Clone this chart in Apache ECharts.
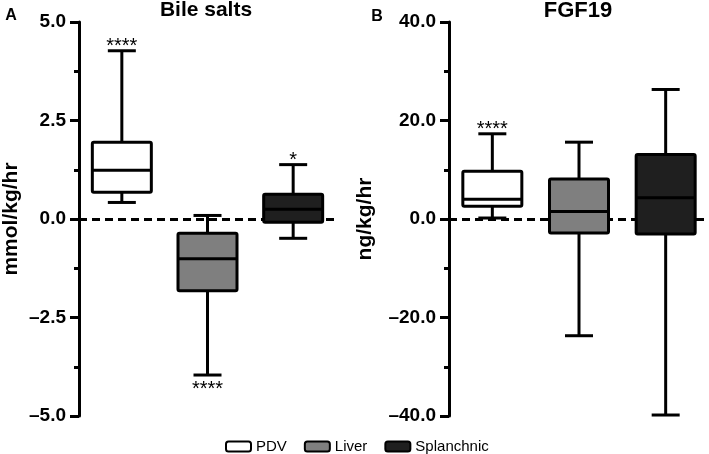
<!DOCTYPE html>
<html><head><meta charset="utf-8">
<script src="https://cdn.jsdelivr.net/npm/echarts@6/dist/echarts.min.js"></script>
<style>html,body{margin:0;padding:0;background:#fff}#c{width:709px;height:454px}</style>
</head><body><div id="c"></div>
<script>
// ---- data ----
const groups = ['PDV', 'Liver', 'Splanchnic'];
// Panel A: Bile salts (mmol/kg/hr) -> [min, Q1, median, Q3, max]
const bilePDV = [0.42, 0.68, 1.24, 1.95, 4.27];
const bileLiver = [-3.96, -1.82, -1.01, -0.36, 0.09];
const bileSplanchnic = [-0.49, -0.08, 0.25, 0.63, 1.38];
const bileStars = ['****', '****', '*'];
const bileStarSide = ['top', 'bottom', 'top'];
const bileTicks = [-5, -2.5, 0, 2.5, 5];
// Panel B: FGF19 (ng/kg/hr)
const fgfPDV = [0.2, 2.6, 4.0, 9.7, 17.3];
const fgfLiver = [-23.7, -2.85, 1.5, 8.1, 15.6];
const fgfSplanchnic = [-39.8, -3.05, 4.3, 13.1, 26.3];
const fgfStars = ['****', '', ''];
const fgfStarSide = ['top', 'top', 'top'];
const fgfTicks = [-40, -20, 0, 20, 40];

// ---- style ----
const FONT = 'Liberation Sans, Arial, Helvetica, sans-serif';
const fills = ['#ffffff', '#7f7f7f', '#1f1f1f'];

function fmt(v) { return (v < 0 ? '\u2013' : '') + Math.abs(v).toFixed(1); }

function boxSeries(name, values, star, side, fill, axisIdx, cat) {
  return {
    type: 'custom', name: name, xAxisIndex: axisIdx, yAxisIndex: axisIdx, z: 5,
    itemStyle: { color: fill, borderColor: '#000', borderWidth: 2 },
    encode: { x: 0, y: [1, 2, 3, 4, 5] },
    data: [[cat].concat(values)],
    renderItem: function (params, api) {
      const c = api.value(0);
      const pMin = api.coord([c, api.value(1)]);
      const pQ1 = api.coord([c, api.value(2)]);
      const pMed = api.coord([c, api.value(3)]);
      const pQ3 = api.coord([c, api.value(4)]);
      const pMax = api.coord([c, api.value(5)]);
      const cx = pMin[0];
      const bw = 59, cw = 28;
      const ls = { stroke: '#000', lineWidth: 3 };
      const ch = [
        { type: 'line', shape: { x1: cx, y1: pMax[1], x2: cx, y2: pQ3[1] }, style: ls },
        { type: 'line', shape: { x1: cx, y1: pMin[1], x2: cx, y2: pQ1[1] }, style: ls },
        { type: 'line', shape: { x1: cx - cw / 2, y1: pMax[1], x2: cx + cw / 2, y2: pMax[1] }, style: ls },
        { type: 'line', shape: { x1: cx - cw / 2, y1: pMin[1], x2: cx + cw / 2, y2: pMin[1] }, style: ls },
        { type: 'rect', shape: { x: cx - bw / 2, y: pQ3[1], width: bw, height: pQ1[1] - pQ3[1], r: 1.5 },
          style: { fill: fill, stroke: '#000', lineWidth: 3, lineJoin: 'round' } },
        { type: 'line', shape: { x1: cx - bw / 2, y1: pMed[1], x2: cx + bw / 2, y2: pMed[1] }, style: ls }
      ];
      if (star) {
        const y = side === 'top' ? pMax[1] - 4 : pMin[1] + 14;
        ch.push({ type: 'text', style: { text: star, x: cx, y: y, align: 'center', verticalAlign: 'middle',
          fontSize: 20, fontFamily: FONT, fill: '#000' } });
      }
      return { type: 'group', children: ch };
    }
  };
}

function zeroLine(axisIdx) {
  return {
    type: 'line', xAxisIndex: axisIdx, yAxisIndex: axisIdx, data: [], z: 1, silent: true,
    markLine: { symbol: 'none', silent: true, label: { show: false }, animation: false,
      lineStyle: { color: '#000', width: 3, type: [8, 5] }, data: [{ yAxis: 0 }] }
  };
}

function yAxisOpt(ticks, name, gap, idx) {
  return {
    type: 'value', gridIndex: idx, min: ticks[0], max: ticks[ticks.length - 1],
    interval: ticks[1] - ticks[0], name: name, nameLocation: 'middle', nameGap: gap,
    nameTextStyle: { fontSize: 21, fontWeight: 'bold', fontFamily: FONT, color: '#000' },
    axisLine: { show: true, lineStyle: { color: '#000', width: 3 } },
    axisTick: { show: true, length: 9, lineStyle: { color: '#000', width: 3 } },
    minorTick: { show: true, splitNumber: 2, length: 5, lineStyle: { color: '#000', width: 3 } },
    splitLine: { show: false },
    axisLabel: { formatter: fmt, fontSize: 19, fontWeight: 'bold', fontFamily: FONT, color: '#000', margin: 13 }
  };
}

const chart = echarts.init(document.getElementById('c'), null, { renderer: 'canvas' });
const option = {
  animation: false,
  backgroundColor: '#fff',
  grid: [
    { left: 72, top: 22, width: 264, height: 394 },
    { left: 449, top: 22, width: 262, height: 394 }
  ],
  xAxis: [
    { type: 'category', gridIndex: 0, data: groups, show: false },
    { type: 'category', gridIndex: 1, data: groups, show: false }
  ],
  yAxis: [
    yAxisOpt(bileTicks, 'mmol/kg/hr', 57, 0),
    yAxisOpt(fgfTicks, 'ng/kg/hr', 73, 1)
  ],
  legend: {
    left: 225, top: 439, padding: 0, icon: 'roundRect', itemWidth: 25, itemHeight: 10, itemGap: 17,
    textStyle: { fontSize: 15, fontFamily: FONT, color: '#000' },
    data: groups.map((g, i) => ({ name: g, itemStyle: { color: fills[i], borderColor: '#000', borderWidth: 2 } }))
  },
  graphic: [
    { type: 'text', x: 206, y: 0, style: { text: 'Bile salts', align: 'center', fontSize: 21, fontWeight: 'bold', fontFamily: FONT, fill: '#000' } },
    { type: 'text', x: 578, y: 0, style: { text: 'FGF19', align: 'center', fontSize: 22, fontWeight: 'bold', fontFamily: FONT, fill: '#000' } },
    { type: 'text', x: 11, y: 8, style: { text: 'A', align: 'center', fontSize: 16, fontWeight: 'bold', fontFamily: FONT, fill: '#000' } },
    { type: 'text', x: 377, y: 9, style: { text: 'B', align: 'center', fontSize: 16, fontWeight: 'bold', fontFamily: FONT, fill: '#000' } }
  ],
  series: [
    zeroLine(0), zeroLine(1),
    boxSeries('PDV', bilePDV, bileStars[0], bileStarSide[0], fills[0], 0, 0),
    boxSeries('Liver', bileLiver, bileStars[1], bileStarSide[1], fills[1], 0, 1),
    boxSeries('Splanchnic', bileSplanchnic, bileStars[2], bileStarSide[2], fills[2], 0, 2),
    boxSeries('PDV', fgfPDV, fgfStars[0], fgfStarSide[0], fills[0], 1, 0),
    boxSeries('Liver', fgfLiver, fgfStars[1], fgfStarSide[1], fills[1], 1, 1),
    boxSeries('Splanchnic', fgfSplanchnic, fgfStars[2], fgfStarSide[2], fills[2], 1, 2)
  ]
};
chart.setOption(option);
</script></body></html>
